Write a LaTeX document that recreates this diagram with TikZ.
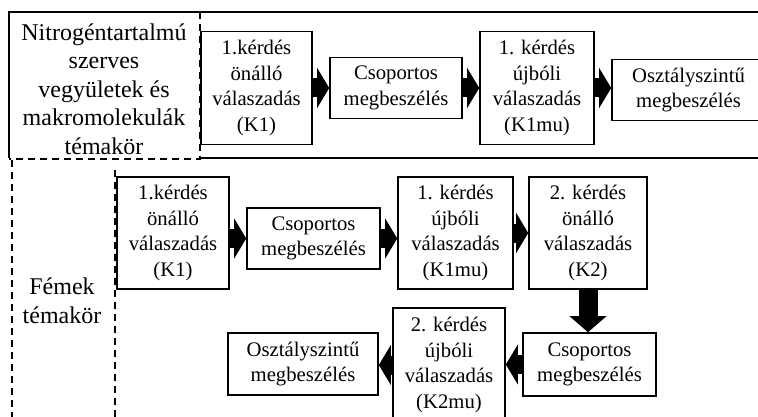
\documentclass[tikz,border=0pt]{standalone}
\usepackage{fontspec}
\setmainfont{Liberation Serif}
\usetikzlibrary{arrows.meta}
\begin{document}
\begin{tikzpicture}[x=1pt,y=-1pt,
  box/.style={draw, line width=1.6pt, align=center, inner sep=0pt, font=\fontsize{20.7}{25.5}\selectfont},
  blk/.style={line width=19pt, -{Triangle[length=12pt,width=40pt,line width=0pt]}},
  blkd/.style={line width=19pt, -{Triangle[length=16pt,width=37pt,line width=0pt]}},
  dsh/.style={line width=1.8pt, dash pattern=on 7pt off 5pt},
  sol/.style={line width=1.6pt},
  lbl/.style={align=center, inner sep=0pt, font=\fontsize{24}{28.5}\selectfont}]
\useasboundingbox (0,0) rectangle (758,417);
\clip (0,0) rectangle (758,417);
% frames
\draw[sol] (770,12) -- (9,12) -- (9,158);
\draw[sol] (200,158) -- (770,158);
\draw[dsh] (200,12) -- (200,159) -- (9,159);
\draw[dsh] (12,160) -- (12,420);
\draw[dsh] (115,170) -- (115,420);
% labels
\node[lbl] (t1) at (104,89) {Nitrogéntartalmú\\szerves\\vegyületek és\\makromolekulák\\témakör};
\node[lbl] (t2) at (62,301) {Fémek\\témakör};
% top row
\node[box, minimum width=111pt, minimum height=113pt] (a1) at (256.5,88) {1.kérdés\\önálló\\válaszadás\\(K1)};
\node[box, minimum width=132pt, minimum height=61pt] (a2) at (396,88) {Csoportos\\megbeszélés};
\node[box, minimum width=114pt, minimum height=113pt] (a3) at (537,88) {1. kérdés\\újbóli\\válaszadás\\(K1mu)};
\node[box, minimum width=153pt, minimum height=61pt] (a4) at (688.5,90) {Osztályszintű\\megbeszélés};
\draw[blk] (a1.east) -- (a1.east -| a2.west);
\draw[blk] (a2.east) -- (a2.east -| a3.west);
\draw[blk] (a3.east) -- (a3.east -| a4.west);
% lower rows
\node[box, minimum width=112pt, minimum height=112pt] (b1) at (173,233) {1.kérdés\\önálló\\válaszadás\\(K1)};
\node[box, minimum width=133pt, minimum height=61pt] (b2) at (313.5,238.5) {Csoportos\\megbeszélés};
\node[box, minimum width=115pt, minimum height=112pt] (b3) at (455.5,233) {1. kérdés\\újbóli\\válaszadás\\(K1mu)};
\node[box, minimum width=118pt, minimum height=112pt] (b4) at (588,233) {2. kérdés\\önálló\\válaszadás\\(K2)};
\node[box, minimum width=133pt, minimum height=63pt] (b5) at (589.5,364.5) {Csoportos\\megbeszélés};
\node[box, minimum width=112pt, minimum height=114pt] (b6) at (449,365) {2. kérdés\\újbóli\\válaszadás\\(K2mu)};
\node[box, minimum width=150pt, minimum height=62pt] (b7) at (303,364) {Osztályszintű\\megbeszélés};
\draw[blk] (b1.east |- b2.east) -- (b2.west);
\draw[blk] (b2.east) -- (b2.east -| b3.west);
\draw[blk] (b3.east) -- (b3.east -| b4.west);
\draw[blkd] (b4.south) -- (b4.south |- b5.north);
\draw[blk] (b5.west) -- (b5.west -| b6.east);
\draw[blk] (b6.west) -- (b6.west -| b7.east);
\end{tikzpicture}
\end{document}
